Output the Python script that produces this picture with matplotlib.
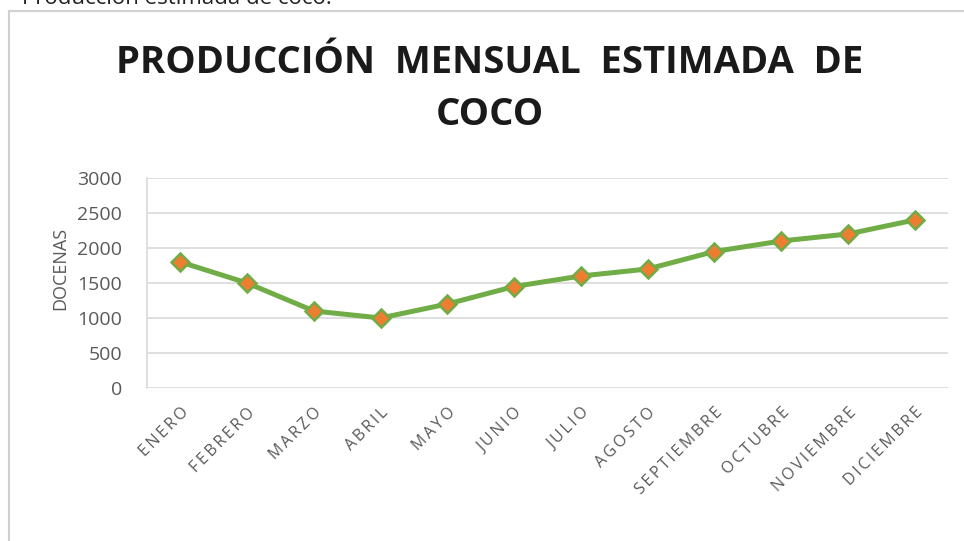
import matplotlib
matplotlib.use("Agg")
import matplotlib.pyplot as plt
from matplotlib.patches import Rectangle

months = ["ENERO", "FEBRERO", "MARZO", "ABRIL", "MAYO", "JUNIO", "JULIO",
          "AGOSTO", "SEPTIEMBRE", "OCTUBRE", "NOVIEMBRE", "DICIEMBRE"]
docenas = [1800, 1500, 1100, 1000, 1200, 1450, 1600, 1700, 1950, 2100, 2200, 2400]
yticks = [0, 500, 1000, 1500, 2000, 2500, 3000]

W, H = 964, 541
plt.rcParams['font.family'] = ['Open Sans', 'DejaVu Sans']
fig = plt.figure(figsize=(W / 100, H / 100), dpi=100)

# chart frame
frame = Rectangle((9 / W, -0.05), 1.1, 1 - 11 / H + 0.05,
                  transform=fig.transFigure, facecolor='white',
                  edgecolor='#d0d0d0', linewidth=1.5, zorder=-5)
fig.patches.append(frame)
fig.text(22 / W, 1 + 12 / H, "Producción estimada de coco.", fontsize=16,
         color='#222222', va='top', ha='left')

ax = fig.add_axes([147 / W, 1 - 388 / H, (948 - 147) / W, (388 - 178) / H])
ax.patch.set_alpha(0)
x = list(range(len(months)))
ax.plot(x, docenas, color='#70AD47', linewidth=3.6, marker='D', markersize=9,
        markerfacecolor='#ED7D31', markeredgecolor='#70AD47', markeredgewidth=1.8,
        zorder=3, clip_on=False)
ax.set_xlim(-0.5, 11.5)
ax.set_ylim(0, 3000)
ax.set_yticks(yticks)
ax.set_yticklabels([str(v) for v in yticks])
ax.grid(axis='y', color='#d9d9d9', linewidth=1.2)
ax.set_axisbelow(True)
for s in ['top', 'right', 'bottom']:
    ax.spines[s].set_visible(False)
ax.spines['left'].set_color('#d9d9d9')
ax.spines['left'].set_linewidth(1.2)
ax.tick_params(axis='y', length=0, labelsize=14, labelcolor='#595959', pad=18)
ax.tick_params(axis='x', length=0, labelsize=11.5, labelcolor='#595959', pad=12)
ax.set_xticks(x)
spaced = ["\u2009".join(m) for m in months]
ax.set_xticklabels(spaced, rotation=45, ha='right', rotation_mode='anchor')
ax.set_ylabel("DOCENAS", fontsize=13, color='#595959')
ax.yaxis.set_label_coords(-0.097, 0.57)

fig.text(490 / W, 1 - 63 / H, "PRODUCCIÓN  MENSUAL  ESTIMADA  DE", fontsize=27.5,
         fontweight='bold', color='#1a1a1a', ha='center', va='center')
fig.text(490 / W, 1 - 115 / H, "COCO", fontsize=27.5,
         fontweight='bold', color='#1a1a1a', ha='center', va='center')

fig.savefig("out.png", dpi=100)
